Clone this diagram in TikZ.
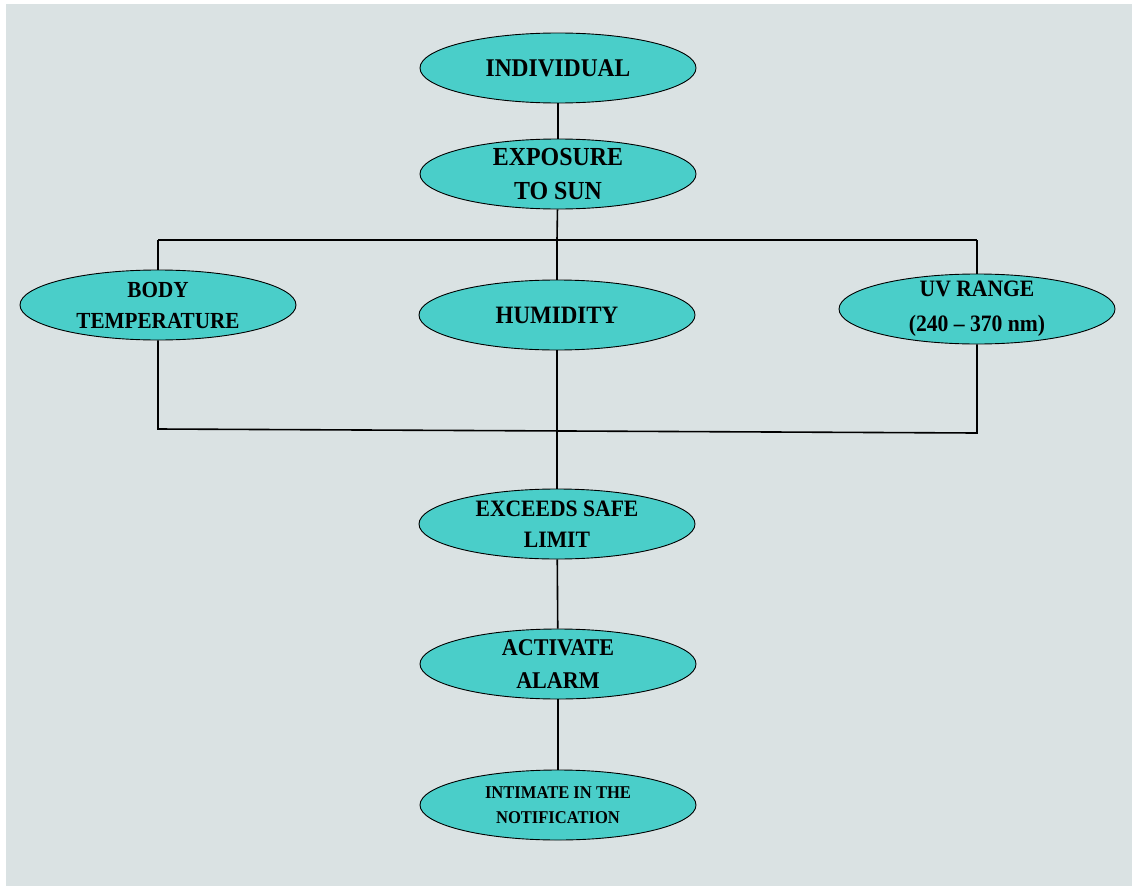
\documentclass[tikz,border=0pt]{standalone}
\usepackage{fontspec}
\setmainfont{Liberation Serif}[FakeStretch=0.92]
\usetikzlibrary{shapes.geometric,positioning,calc}

\definecolor{paneback}{HTML}{DAE2E3}
\definecolor{stagefill}{HTML}{4ACEC9}

\begin{document}
\begin{tikzpicture}[x=1pt, y=-1pt,
            every path/.style={line width=1.6pt}, % the connecting lines
            stage/.style={ellipse, draw, line width=0.9pt, fill=stagefill,
                minimum width=276pt, minimum height=70pt, inner sep=-15pt,
                align=center}, % sets the properties for each ellipse
            txt/.style 2 args={font=\bfseries\fontsize{#1}{#2}\selectfont},
        ]
        \useasboundingbox (0,0) rectangle (1132,886);
        \fill[paneback] (6,4) rectangle (1132,886);

        \node[stage, txt={25.5}{30}] (indiv) at (558,68) {INDIVIDUAL};
        \node[stage, txt={26}{34}] (expo) at (558,174) {EXPOSURE\\TO SUN};
        \node[stage, txt={23}{31}] (body) at (158,305) {BODY\\TEMPERATURE};
        \node[stage, txt={25}{30}] (humid) at (557,315) {HUMIDITY};
        \node[stage, txt={23.5}{35}] (uvr) at (977,309) {UV RANGE\\(240 – 370 nm)};
        \node[stage, txt={23.5}{31}] (exceed) at (557,524) {EXCEEDS SAFE\\LIMIT};
        \node[stage, txt={24}{33}] (alarm) at (558,664) {ACTIVATE\\ALARM};
        \node[stage, txt={18}{25}] (notify) at (558,805) {INTIMATE IN THE\\NOTIFICATION};

        % corners of the two bars
        \coordinate (topmid) at (557,240);
        \coordinate (topleft) at (158,240);
        \coordinate (topright) at (977,240);
        \coordinate (lowleft) at (158,429);
        \coordinate (lowmid) at (557,431);
        \coordinate (lowright) at (977,433);

        \draw (indiv) -- (expo);
        \draw (expo) -- (topmid);
        \draw (topleft) -- (topright);
        \draw (topleft) -- (body);
        \draw (topmid) -- (humid);
        \draw (topright) -- (uvr);
        \draw (body) -- (lowleft) -- (lowright) -- (uvr);
        \draw (humid) -- (lowmid) -- (exceed);
        \draw (exceed) -- (alarm);
        \draw (alarm) -- (notify);
    \end{tikzpicture}
\end{document}
